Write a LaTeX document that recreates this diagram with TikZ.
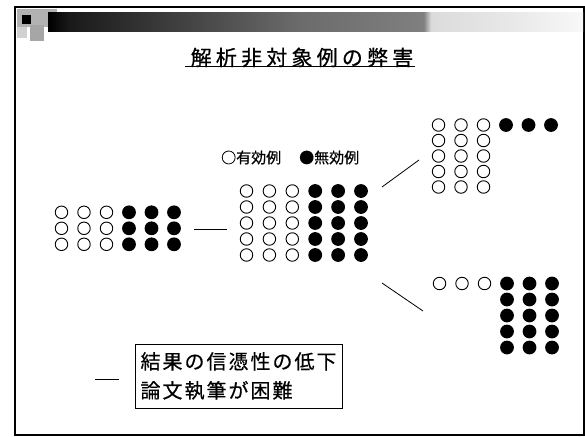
\documentclass[tikz,border=0pt]{standalone}
\usepackage{fontspec}
\setmainfont{Noto Sans CJK JP}
\pgfdeclarehorizontalshading{titlebar}{100bp}{color(0bp)=(black); color(25bp)=(black); color(27bp)=(black!90); color(39.2bp)=(black!72); color(48.5bp)=(black!58); color(60.1bp)=(black!50); color(60.8bp)=(black!14); color(68.3bp)=(black!9); color(74.8bp)=(black!3); color(100bp)=(white)}
\begin{document}
\begin{tikzpicture}[x=1pt,y=-1pt,
  oc/.style={circle,draw=black,line width=0.9pt,minimum size=12.5pt,inner sep=0pt},
  fc/.style={circle,fill=black,minimum size=13.8pt,inner sep=0pt},
  link/.style={draw=black,line width=0.8pt}]
\useasboundingbox (0,0) rectangle (585,436);
\fill[white] (0,0) rectangle (585,436);
% frame
\draw[line width=1.6pt] (15,7) rectangle (584,435);
% title bar
\fill[black!30] (17,9) rectangle (57,27);
\fill[black!35] (30,25) rectangle (44,41);
\fill[black!18] (17,27) rectangle (27,38);
\shade[shading=titlebar] (48,13) rectangle (583,32);
\fill[black] (22,15) rectangle (31,24);
% title
\node[inner sep=0pt,font=\fontsize{21}{24}\selectfont\addfontfeature{LetterSpace=20,FakeBold=0.6}] (title) at (302,57.5) {解析非対象例の弊害};
\coordinate (ulA) at (185,66.5);
\coordinate (ulB) at (415,66.5);
\draw[line width=1pt] (ulA) -- (ulB);
% legend
\node[anchor=west,inner sep=0pt,font=\fontsize{15}{16}\selectfont\addfontfeature{FakeBold=0.5}] (leg1) at (221,157.5) {○有効例};
\node[anchor=west,inner sep=0pt,font=\fontsize{15}{16}\selectfont\addfontfeature{FakeBold=0.5}] (leg2) at (299,157.5) {●無効例};
% left group 3x6
\foreach \j in {0,1,2}{
  \foreach \i in {0,1,2} \node[oc] (L-\i-\j) at (61.5+22.5*\i,212.3+16*\j) {};
  \foreach \i in {3,4,5} \node[fc] (L-\i-\j) at (61.5+22.5*\i,212.3+16*\j) {};
}
% center group 5x6
\foreach \j in {0,...,4}{
  \foreach \i in {0,1,2} \node[oc] (C-\i-\j) at (246.5+22.9*\i,191+16*\j) {};
  \foreach \i in {3,4,5} \node[fc] (C-\i-\j) at (246.5+22.9*\i,191+16*\j) {};
}
% top right group
\foreach \j in {0,...,4}{
  \foreach \i in {0,1,2} \node[oc] (T-\i-\j) at (438.5+22.5*\i,125+15.5*\j) {};
}
\foreach \i in {3,4,5} \node[fc] (T-\i-0) at (438.5+22.5*\i,125) {};
% bottom right group
\foreach \i in {0,1,2} \node[oc] (B-\i-0) at (439.5+22.5*\i,283.5) {};
\foreach \j in {0,...,4}{
  \foreach \i in {3,4,5} \node[fc] (B-\i-\j) at (439.5+22.5*\i,283.5+16*\j) {};
}
% connecting strokes
\coordinate (l1a) at (194,229);
\coordinate (l1b) at (227,229);
\coordinate (l2a) at (382,187);
\coordinate (l2b) at (419,160);
\coordinate (l3a) at (382,283);
\coordinate (l3b) at (423,311);
\coordinate (l4a) at (95,379);
\coordinate (l4b) at (119,379);
\draw[link] (l1a) -- (l1b);
\draw[link] (l2a) -- (l2b);
\draw[link] (l3a) -- (l3b);
\draw[link] (l4a) -- (l4b);
% conclusion box
\node[draw,line width=0.8pt,minimum width=207pt,minimum height=64pt,align=left,inner sep=0pt,
  font=\fontsize{20}{29}\selectfont\addfontfeature{LetterSpace=10,FakeBold=0.5}] (box) at (238.5,376) {結果の信憑性の低下\\論文執筆が困難};
\end{tikzpicture}
\end{document}
